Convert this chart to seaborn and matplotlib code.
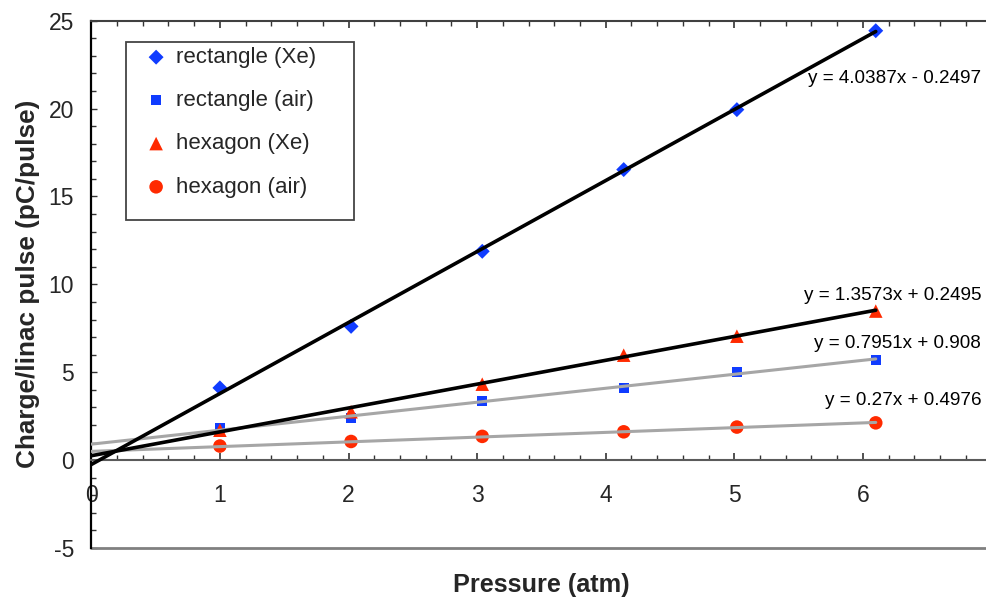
import matplotlib
matplotlib.use("Agg")
import matplotlib.pyplot as plt
from matplotlib.ticker import MultipleLocator
from matplotlib.patches import Rectangle
import numpy as np
import pandas as pd
import seaborn as sns

# ---- data ----
pressure = [1.0, 2.02, 3.04, 4.14, 5.02, 6.1]
rect_xe = [4.11, 7.61, 11.88, 16.53, 19.94, 24.43]
rect_air = [1.84, 2.37, 3.35, 4.13, 5.00, 5.72]
hex_xe = [1.70, 2.75, 4.32, 5.97, 7.05, 8.48]
hex_air = [0.80, 1.06, 1.35, 1.61, 1.88, 2.12]

series_names = ["rectangle (Xe)", "rectangle (air)", "hexagon (Xe)", "hexagon (air)"]
series_values = [rect_xe, rect_air, hex_xe, hex_air]

# linear trend lines (from the equations printed on the chart)
slopes = [4.0387, 0.7951, 1.3573, 0.27]
intercepts = [-0.2497, 0.908, 0.2495, 0.4976]
equation_labels = ["y = 4.0387x - 0.2497", "y = 0.7951x + 0.908",
                   "y = 1.3573x + 0.2495", "y = 0.27x + 0.4976"]
trend_x = [0.0, 6.1]

x_ticks = [0, 1, 2, 3, 4, 5, 6]
y_ticks = [-5, 0, 5, 10, 15, 20, 25]

# ---- styles ----
BLUE = "#103cff"
RED = "#ff2a00"
markers = ["D", "s", "^", "o"]
colors = [BLUE, BLUE, RED, RED]
sizes = [58, 52, 95, 95]
line_colors = ["black", "#a6a6a6", "black", "#a6a6a6"]
label_pos = [(6.92, 21.7), (6.92, 6.65), (6.92, 9.38), (6.92, 3.41)]

sns.set_style("white")
plt.rcParams["font.family"] = ["Liberation Sans", "DejaVu Sans"]
plt.rcParams["axes.unicode_minus"] = False

W, H = 986, 599
fig = plt.figure(figsize=(W / 100, H / 100), dpi=100)
left_px, right_px, top_px, bot_px = 91.3, 991.5, 20.7, 548.0
ax = fig.add_axes([left_px / W, 1 - bot_px / H, (right_px - left_px) / W, (bot_px - top_px) / H])

rows = []
for name, vals in zip(series_names, series_values):
    for p, v in zip(pressure, vals):
        rows.append({"Pressure": p, "Charge": v, "series": name})
df = pd.DataFrame(rows)

for name, m, c, s in zip(series_names, markers, colors, sizes):
    sns.scatterplot(data=df[df.series == name], x="Pressure", y="Charge", marker=m,
                    color=c, s=s, edgecolor="none", linewidth=0, label=name,
                    ax=ax, zorder=3, clip_on=False)

for sl, ic, lc in zip(slopes, intercepts, line_colors):
    tx = np.array(trend_x)
    tdf = pd.DataFrame({"x": tx, "y": sl * tx + ic})
    sns.lineplot(data=tdf, x="x", y="y", color=lc, linewidth=2.6 if lc == "black" else 2.2,
                 ax=ax, zorder=4 if lc == "black" else 3.5, legend=False)

for lab, (lx, ly) in zip(equation_labels, label_pos):
    ax.text(lx, ly, lab, ha="right", va="center", fontsize=13.6, color="black")

ax.set_xlim(0, 7)
ax.set_ylim(-5, 25)
ax.set_xticks(x_ticks)
ax.set_yticks(y_ticks)
ax.xaxis.set_minor_locator(MultipleLocator(0.2))
ax.yaxis.set_minor_locator(MultipleLocator(1))

ax.spines["bottom"].set_position(("data", 0))
ax.spines["bottom"].set_color("#5a5a5a")
ax.spines["bottom"].set_linewidth(1.5)
ax.spines["top"].set_color("#404040")
ax.spines["top"].set_linewidth(1.5)
ax.spines["left"].set_color("black")
ax.spines["left"].set_linewidth(1.6)
ax.spines["right"].set_color("black")
ax.axhline(-5, color="#808080", lw=2.0, clip_on=False, zorder=2)

ax.tick_params(axis="x", which="both", direction="in", top=True, bottom=True,
               color="#333333", labelsize=16.5, pad=17)
ax.tick_params(axis="x", which="major", length=5, width=1.2)
ax.tick_params(axis="x", which="minor", length=3.3, width=1.0)
ax.tick_params(axis="y", which="major", direction="in", left=True, right=True,
               length=4.5, width=1.0, color="#333333", labelsize=16.5, pad=12.5)
ax.tick_params(axis="y", which="minor", direction="in", left=True, right=False,
               length=3.6, width=1.0, color="#333333")

ax.set_xlabel("Pressure (atm)", fontsize=18.2, fontweight="bold")
ax.set_ylabel("Charge/linac pulse (pC/pulse)", fontsize=18.8, fontweight="bold")
ax.xaxis.set_label_coords((541 - left_px) / (right_px - left_px), (bot_px - 573) / (bot_px - top_px))
ax.yaxis.set_label_coords((40 - left_px) / (right_px - left_px), 0.5)

leg = ax.legend(loc="upper left", bbox_to_anchor=(145 / W, 1 - 47 / H),
                bbox_transform=fig.transFigure, frameon=False, fontsize=16,
                handlelength=1.0, handletextpad=0.4, labelspacing=1.0, borderpad=0,
                borderaxespad=0, markerscale=1.0)
fig.add_artist(Rectangle((126 / W, 1 - 220 / H), 228 / W, 178 / H, transform=fig.transFigure,
                         fill=False, edgecolor="#444444", linewidth=1.3))

fig.savefig("out.png", dpi=100)
